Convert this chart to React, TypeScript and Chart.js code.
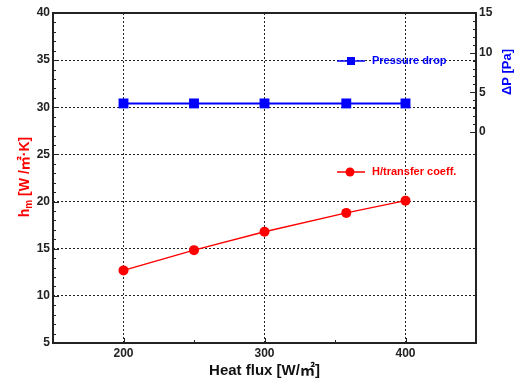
import { useEffect, useRef } from "react";
import { Chart, registerables } from "chart.js";

Chart.register(...registerables);

// Heat flux [W/㎡] on the x axis
const heatFlux = [200, 250, 300, 358, 400];
// Mean heat transfer coefficient h_m [W/㎡·K] (left axis)
const heatTransferCoeff = [12.7, 14.85, 16.8, 18.8, 20.1];
// Pressure drop ΔP [Pa] (right axis)
const pressureDrop = [3.6, 3.6, 3.6, 3.6, 3.6];

const xTickValues = [200, 300, 400];
const xMinorValues = [250, 350];
const hTickValues = [5, 10, 15, 20, 25, 30, 35, 40];
const dpTickValues = [0, 5, 10, 15];

const seriesLabels = ["Pressure drop", "H/transfer coeff."];

const FONT = "'Liberation Sans', Arial, 'Noto Sans CJK KR', sans-serif";
const RED = "#ff0000";
const BLUE = "#0000ff";

const frameAndLabels = {
  id: "frameAndLabels",
  afterDraw(chart: any) {
    const { ctx, chartArea: a, scales } = chart;
    const x = scales.x;
    const yL = scales.yL;
    const yR = scales.yR;
    ctx.save();

    // inward tick marks
    ctx.strokeStyle = "#222";
    ctx.lineWidth = 1;
    ctx.beginPath();
    for (let v = 5; v <= 40; v += 1) {
      const py = Math.round(yL.getPixelForValue(v)) + 0.5;
      const len = v % 5 === 0 ? 6 : 3;
      ctx.moveTo(a.left, py);
      ctx.lineTo(a.left + len, py);
    }
    for (let v = 0; v <= 15; v += 1) {
      const py = Math.round(yR.getPixelForValue(v)) + 0.5;
      const len = v % 5 === 0 ? 6 : 3;
      ctx.moveTo(a.right, py);
      ctx.lineTo(a.right - len, py);
    }
    xTickValues.forEach((v) => {
      const px = Math.round(x.getPixelForValue(v)) + 0.5;
      ctx.moveTo(px, a.bottom);
      ctx.lineTo(px, a.bottom - 5);
    });
    xMinorValues.forEach((v) => {
      const px = Math.round(x.getPixelForValue(v)) + 0.5;
      ctx.moveTo(px, a.bottom);
      ctx.lineTo(px, a.bottom - 3);
    });
    ctx.stroke();

    // frame
    ctx.strokeStyle = "#222";
    ctx.lineWidth = 2;
    ctx.strokeRect(a.left, a.top, a.right - a.left, a.bottom - a.top);

    // legend entries
    const drawEntry = (y: number, color: string, text: string, square: boolean) => {
      ctx.strokeStyle = color;
      ctx.fillStyle = color;
      ctx.lineWidth = 1.5;
      ctx.beginPath();
      ctx.moveTo(337, y);
      ctx.lineTo(365, y);
      ctx.stroke();
      ctx.beginPath();
      if (square) ctx.rect(347, y - 4, 8, 8);
      else ctx.arc(350, y, 4.5, 0, Math.PI * 2);
      ctx.fill();
      ctx.font = `bold 11px ${FONT}`;
      ctx.textAlign = "left";
      ctx.textBaseline = "middle";
      ctx.fillText(text, 372, y);
    };
    drawEntry(61, BLUE, seriesLabels[0], true);
    drawEntry(172, RED, seriesLabels[1], false);

    // x axis title
    ctx.fillStyle = "#111";
    ctx.font = `bold 15px ${FONT}`;
    ctx.textAlign = "center";
    ctx.textBaseline = "middle";
    ctx.fillText("Heat flux [W/㎡]", (a.left + a.right) / 2, 371);

    // right axis title
    ctx.save();
    ctx.translate(507, 72);
    ctx.rotate(-Math.PI / 2);
    ctx.fillStyle = BLUE;
    ctx.font = `bold 13px ${FONT}`;
    ctx.fillText("ΔP [Pa]", 0, 0);
    ctx.restore();

    // left axis title with subscript
    ctx.save();
    ctx.translate(25, 177);
    ctx.rotate(-Math.PI / 2);
    ctx.fillStyle = RED;
    ctx.textAlign = "left";
    ctx.textBaseline = "middle";
    const big = `bold 14px ${FONT}`;
    const small = `bold 10px ${FONT}`;
    const rest = " [W /㎡·K]";
    ctx.font = big;
    const wH = ctx.measureText("h").width;
    const wRest = ctx.measureText(rest).width;
    ctx.font = small;
    const wM = ctx.measureText("m").width;
    let cx = -(wH + wM + wRest) / 2;
    ctx.font = big;
    ctx.fillText("h", cx, 0);
    cx += wH;
    ctx.font = small;
    ctx.fillText("m", cx, 4);
    cx += wM;
    ctx.font = big;
    ctx.fillText(rest, cx, 0);
    ctx.restore();

    ctx.restore();
  },
};

export default function App() {
  const ref = useRef<HTMLCanvasElement | null>(null);

  useEffect(() => {
    if (!ref.current) return;
    const tickFont = { family: FONT, size: 12, weight: "bold" as const };
    const chart = new Chart(ref.current, {
      type: "line",
      data: {
        datasets: [
          {
            label: seriesLabels[0],
            data: heatFlux.map((v, i) => ({ x: v, y: pressureDrop[i] })),
            yAxisID: "yR",
            borderColor: BLUE,
            backgroundColor: BLUE,
            borderWidth: 2,
            pointStyle: "rect",
            pointRadius: 7,
            pointBorderWidth: 0,
          },
          {
            label: seriesLabels[1],
            data: heatFlux.map((v, i) => ({ x: v, y: heatTransferCoeff[i] })),
            yAxisID: "yL",
            borderColor: RED,
            backgroundColor: RED,
            borderWidth: 1.5,
            pointStyle: "circle",
            pointRadius: 5,
            pointBorderWidth: 0,
          },
        ],
      },
      options: {
        responsive: false,
        animation: false,
        devicePixelRatio: 1,
        layout: { padding: { left: 0, right: 0, top: 13, bottom: 0 } },
        plugins: { legend: { display: false }, tooltip: { enabled: false } },
        scales: {
          x: {
            type: "linear",
            min: 150,
            max: 450,
            afterBuildTicks: (s: any) => {
              s.ticks = xTickValues.map((v) => ({ value: v }));
            },
            afterFit: (s: any) => {
              s.height = 39;
            },
            grid: { color: "#222", lineWidth: 1, drawTicks: false },
            border: { display: false, dash: [2, 2] },
            ticks: { font: tickFont, color: "#222", padding: 3 },
          },
          yL: {
            type: "linear",
            position: "left",
            min: 5,
            max: 40,
            afterBuildTicks: (s: any) => {
              s.ticks = hTickValues.map((v) => ({ value: v }));
            },
            afterFit: (s: any) => {
              s.width = 53;
            },
            grid: { color: "#222", lineWidth: 1, drawTicks: false },
            border: { display: false, dash: [2, 2] },
            ticks: { font: tickFont, color: "#222", padding: 3 },
          },
          yR: {
            type: "linear",
            position: "right",
            min: -26.6,
            max: 15,
            afterBuildTicks: (s: any) => {
              s.ticks = dpTickValues.map((v) => ({ value: v }));
            },
            afterFit: (s: any) => {
              s.width = 42;
            },
            grid: { display: false, drawTicks: false },
            border: { display: false },
            ticks: { font: tickFont, color: "#222", padding: 3 },
          },
        },
      },
      plugins: [frameAndLabels],
    });
    return () => chart.destroy();
  }, []);

  return (
    <div style={{ position: "fixed", left: 0, top: 0, width: 518, height: 382, background: "#fff" }}>
      <canvas ref={ref} width={518} height={382} />
    </div>
  );
}
